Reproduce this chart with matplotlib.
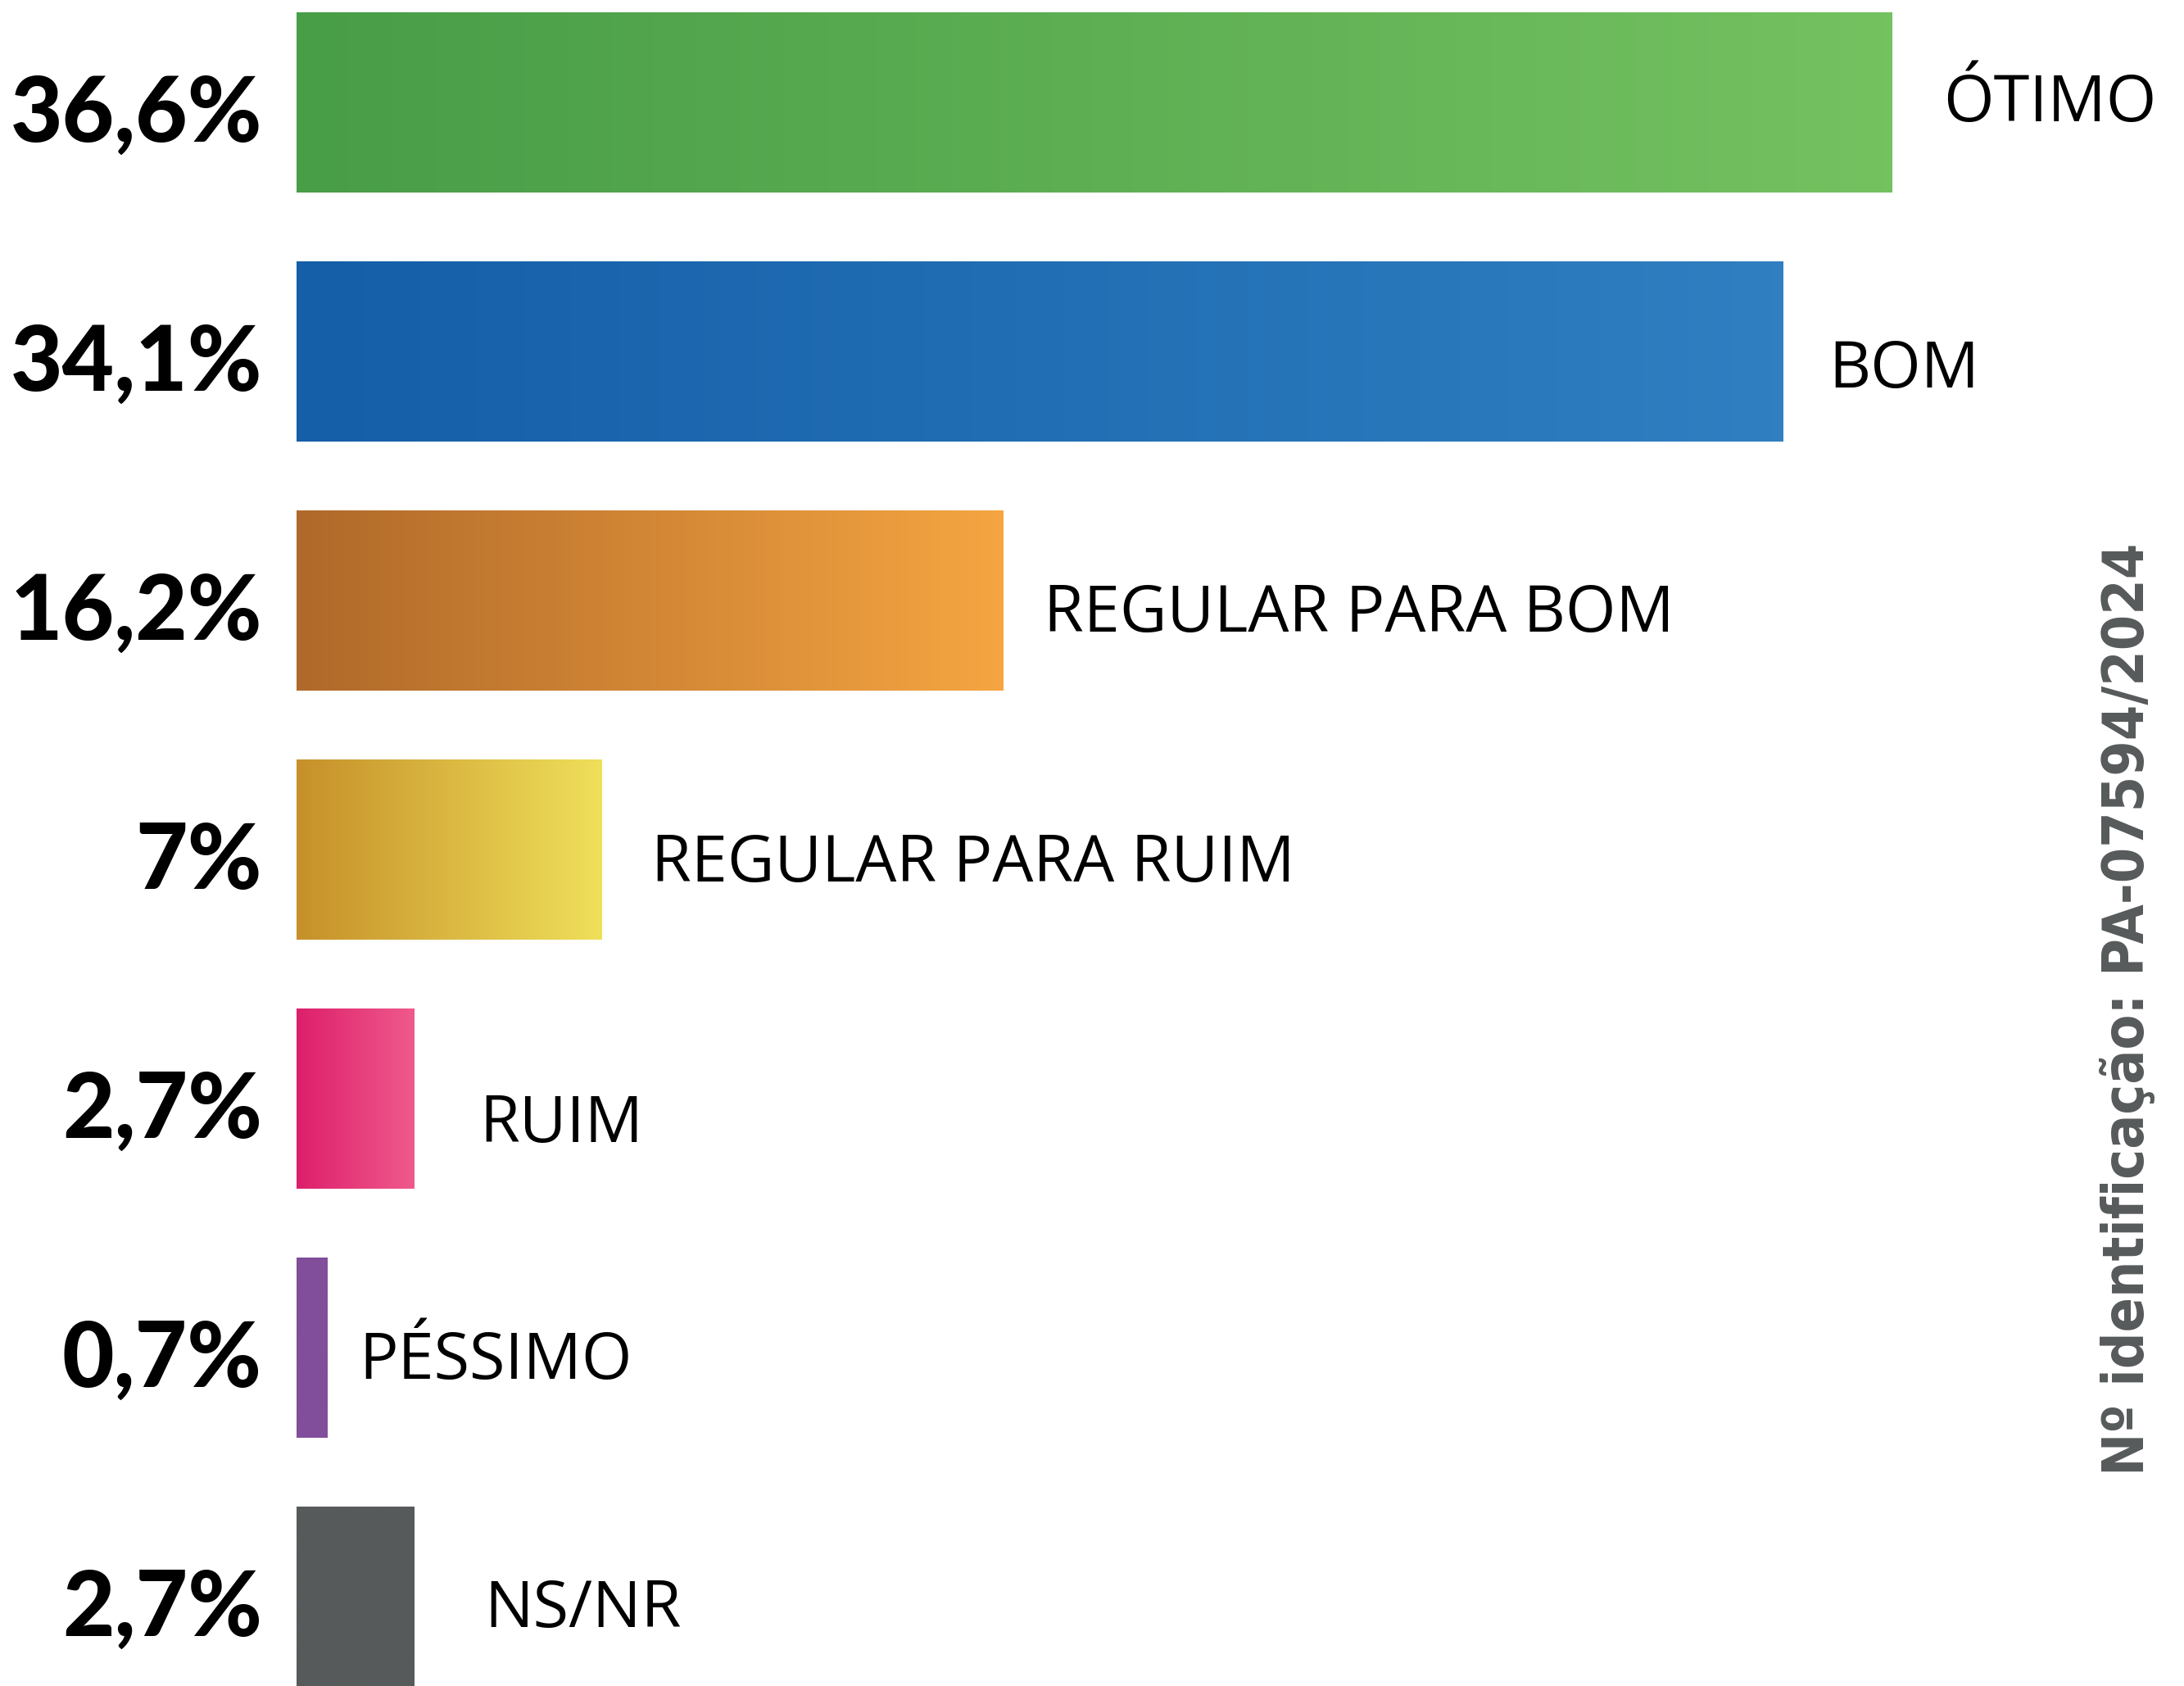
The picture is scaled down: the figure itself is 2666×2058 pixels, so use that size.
import numpy as np
import matplotlib
matplotlib.use("Agg")
import matplotlib.pyplot as plt
import matplotlib.transforms as mtransforms
from matplotlib.colors import LinearSegmentedColormap

# data
categories = ["ÓTIMO", "BOM", "REGULAR PARA BOM", "REGULAR PARA RUIM", "RUIM", "PÉSSIMO", "NS/NR"]
values = [36.6, 34.1, 16.2, 7.0, 2.7, 0.7, 2.7]
value_labels = ["36,6%", "34,1%", "16,2%", "7%", "2,7%", "0,7%", "2,7%"]
note = "Nº identificação: PA-07594/2024"

# gradient colours (left -> right) for each bar
left_colors = ["#489d47", "#155ea8", "#b0692a", "#c6902a", "#dd1f6b", "#814e9b", "#575a5b"]
right_colors = ["#74c160", "#2f7fc1", "#f5a541", "#efe05a", "#ef5a8c", "#814e9b", "#575a5b"]

# label layout tweaks (pixel gap after bar, vertical offset in px)
label_gap = [62, 55, 50, 60, 80, 39, 86]
label_dy = [23, 44, 38, 39, 53, 38, 37]

W, H = 2666, 2058
px_pct = 53.22     # pixels per percentage point
pitch = 304        # pixels between bar rows
first_center = 125

fig = plt.figure(figsize=(W / 100, H / 100), dpi=100)
x0 = 362 / W
ax = fig.add_axes([x0, 0, 1 - x0, 1])
ax.axis("off")

ypos = np.arange(len(values))
bars = ax.barh(ypos, values, height=220 / pitch, color=left_colors, linewidth=0)

grad = np.linspace(0, 1, 256).reshape(1, -1)
for b, c1, c2 in zip(bars, left_colors, right_colors):
    cmap = LinearSegmentedColormap.from_list("g", [c1, c2])
    x, y = b.get_x(), b.get_y()
    w, h = b.get_width(), b.get_height()
    im = ax.imshow(grad, cmap=cmap, aspect="auto", extent=(x, x + w, y + h, y),
                   interpolation="bilinear", zorder=2)
    im.set_clip_path(b)

ax.set_xlim(0, (W - 362) / px_pct)
ax.set_ylim((H - first_center) / pitch, -first_center / pitch)

# value labels on the left
trans = mtransforms.blended_transform_factory(fig.transFigure, ax.transData)
for i, lab in enumerate(value_labels):
    ax.text(320 / W, i + 48 / pitch, lab, transform=trans, ha="right", va="baseline",
            fontsize=79, fontweight="black", family=["Lato", "DejaVu Sans"],
            color="black", clip_on=False)

# category labels after each bar
for i, (v, cat) in enumerate(zip(values, categories)):
    ax.text(v + label_gap[i] / px_pct, i + label_dy[i] / pitch, cat, ha="left", va="baseline",
            fontsize=57, family=["Open Sans", "DejaVu Sans"], color="black")

fig.text(2597 / W, 1 - 1232 / H, note, rotation=90, ha="center", va="center",
         fontsize=50, fontweight="bold", family=["DejaVu Sans"], fontstretch="condensed",
         color="#575a5b")

fig.savefig("out.png", dpi=100, facecolor="white")
